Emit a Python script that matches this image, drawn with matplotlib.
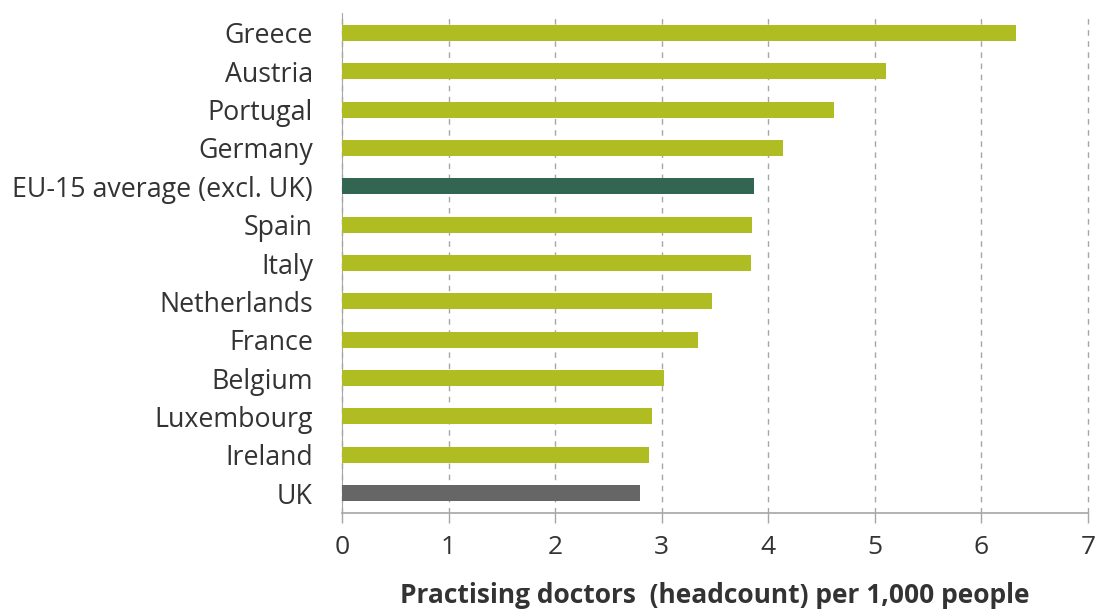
import matplotlib.pyplot as plt

countries = ['Greece', 'Austria', 'Portugal', 'Germany', 'EU-15 average (excl. UK)',
             'Spain', 'Italy', 'Netherlands', 'France', 'Belgium', 'Luxembourg',
             'Ireland', 'UK']
doctors = [6.32, 5.10, 4.62, 4.14, 3.87, 3.85, 3.84, 3.47, 3.34, 3.02, 2.91, 2.88, 2.80]

GREEN = '#AFBD22'
DARK_GREEN = '#336650'
GREY = '#666666'

plt.rcParams['font.family'] = ['Open Sans', 'Noto Sans', 'DejaVu Sans']

colors = []
for c in countries:
    if c.startswith('EU-15'):
        colors.append(DARK_GREEN)
    elif c == 'UK':
        colors.append(GREY)
    else:
        colors.append(GREEN)

fig = plt.figure(figsize=(10.97, 6.09), dpi=100)
ax = fig.add_axes([0.3118, 0.1576, 0.68, 0.821])

ypos = list(range(len(countries)))
ax.barh(ypos, doctors, height=0.42, color=colors, zorder=3)

ax.set_ylim(len(countries) - 0.48, -0.52)
ax.set_xlim(0, 7)
ax.set_yticks(ypos)
ax.set_yticklabels(countries, fontsize=19.3, color='#333333')
ax.tick_params(axis='y', length=0, pad=21)
ax.set_xticks(range(8))
ax.tick_params(axis='x', length=7, width=1, color='#A6A6A6', labelsize=19,
               labelcolor='#333333', pad=9, direction='out')

ax.grid(axis='x', linestyle=(0, (4, 4)), color='#A6A6A6', linewidth=1, zorder=0)
for line in ax.get_xgridlines():
    line.set_clip_on(False)
for s in ['top', 'right']:
    ax.spines[s].set_visible(False)
ax.spines['left'].set_color('#A6A6A6')
ax.spines['bottom'].set_color('#A6A6A6')
ax.spines['bottom'].set_linewidth(1.2)

ax.set_xlabel('Practising doctors  (headcount) per 1,000 people', fontsize=19,
              fontweight='bold', color='#333333', labelpad=16)

fig.savefig('out.png', dpi=100)
